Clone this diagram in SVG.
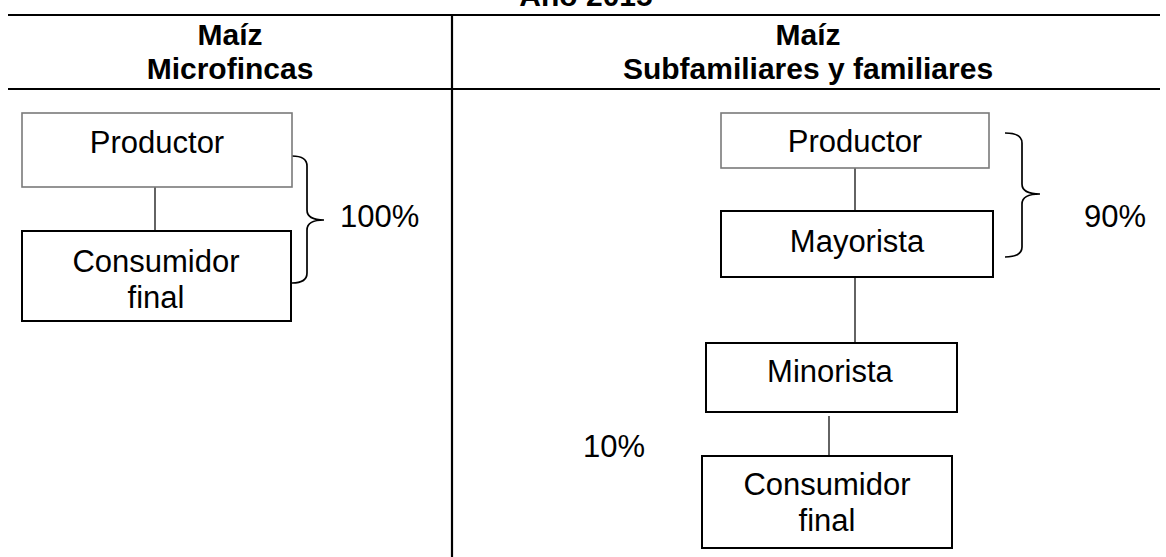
<svg xmlns="http://www.w3.org/2000/svg" width="1166" height="557" viewBox="0 0 1166 557">
<style>
.hd{font-family:"Liberation Sans",Arial,sans-serif;font-weight:bold;font-size:30px;fill:#000;text-anchor:middle}
.tx{font-family:"Liberation Sans",Arial,sans-serif;font-size:31px;fill:#000;text-anchor:middle}
.pc{font-family:"Liberation Sans",Arial,sans-serif;font-size:31px;fill:#000}
.grid{stroke:#000;stroke-width:2.2;fill:none}
.bxg{fill:#fff;stroke:#7a7a7a;stroke-width:1.6}
.bxk{fill:#fff;stroke:#000;stroke-width:2}
.ln{stroke:#222;stroke-width:1.4;fill:none}
.br{stroke:#000;stroke-width:1.7;fill:none}
</style>
<rect width="1166" height="557" fill="#fff"/>
<g id="table">
<text class="hd" x="586" y="6" font-size="31">Año 2015</text>
<line class="grid" x1="8" y1="15" x2="1160" y2="15"/>
<line class="grid" x1="8" y1="89" x2="1160" y2="89"/>
<line class="grid" x1="452" y1="15" x2="452" y2="557"/>
<text class="hd" x="230" y="45">Maíz</text>
<text class="hd" x="230" y="79">Microfincas</text>
<text class="hd" x="808" y="45">Maíz</text>
<text class="hd" x="808" y="79">Subfamiliares y familiares</text>
</g>
<g id="connectors">
<line class="ln" x1="155" y1="187" x2="155" y2="231"/>
<line class="ln" x1="855" y1="168" x2="855" y2="211"/>
<line class="ln" x1="855" y1="277" x2="855" y2="343"/>
<line class="ln" x1="829" y1="416" x2="829" y2="456"/>
<path class="br" d="M292,156 Q307,156 307,166 V210 Q307,220 324,220 Q307,220 307,230 V273 Q307,283 292,283"/>
<path class="br" d="M1005,133 Q1022,133 1022,143 V184 Q1022,194 1040,194 Q1022,194 1022,204 V247 Q1022,257 1005,257"/>
</g>
<g id="n-productor-l">
<rect class="bxg" x="22" y="113" width="270" height="74"/>
<text class="tx" x="157" y="153">Productor</text>
</g>
<g id="n-consumidor-l">
<rect class="bxk" x="22" y="231" width="269" height="90"/>
<text class="tx" x="156" y="272">Consumidor</text>
<text class="tx" x="156" y="308">final</text>
</g>
<g id="n-pct100"><text class="pc" x="340" y="227">100%</text></g>
<g id="n-productor-r">
<rect class="bxg" x="721" y="113" width="268" height="55"/>
<text class="tx" x="855" y="152">Productor</text>
</g>
<g id="n-mayorista">
<rect class="bxk" x="721" y="211" width="272" height="66"/>
<text class="tx" x="857" y="252">Mayorista</text>
</g>
<g id="n-minorista">
<rect class="bxk" x="706" y="343" width="251" height="69"/>
<text class="tx" x="830" y="382">Minorista</text>
</g>
<g id="n-consumidor-r">
<rect class="bxk" x="702" y="456" width="250" height="92"/>
<text class="tx" x="827" y="495">Consumidor</text>
<text class="tx" x="827" y="531">final</text>
</g>
<g id="n-pct90"><text class="pc" x="1084" y="227">90%</text></g>
<g id="n-pct10"><text class="pc" x="583" y="457">10%</text></g>
</svg>
